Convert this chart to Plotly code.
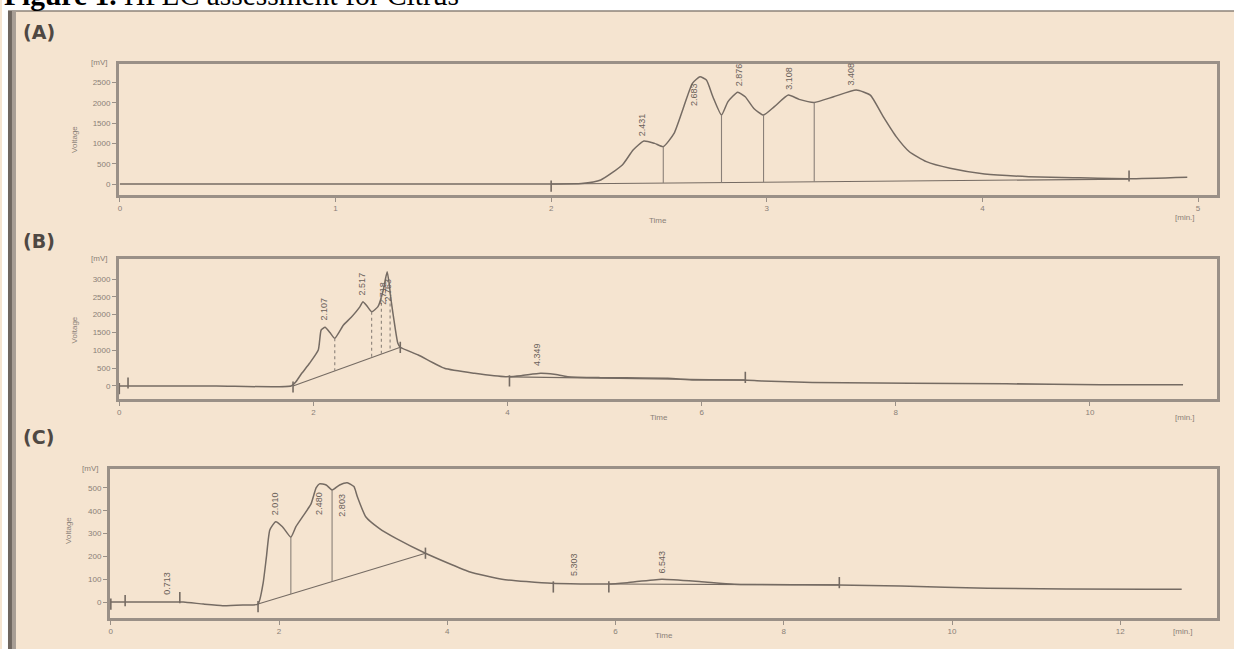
import plotly.graph_objects as go

# ---- chromatogram (A) ----
A_TIME = [0.0, 1.0, 2.0, 2.14, 2.23, 2.33, 2.38, 2.43, 2.48, 2.52, 2.57, 2.615, 2.655, 2.69,
          2.72, 2.75, 2.79, 2.82, 2.865, 2.90, 2.94, 2.985, 3.035, 3.10, 3.15, 3.22, 3.31,
          3.415, 3.48, 3.54, 3.60, 3.66, 3.74, 3.85, 4.01, 4.215, 4.42, 4.68, 4.95]
A_MV = [0, 0, 0, 10, 99, 468, 837, 1060, 1000, 920, 1248, 1905, 2479, 2640,
        2561, 2150, 1700, 2030, 2260, 2150, 1860, 1700, 1905, 2190, 2085, 2010, 2150,
        2315, 2190, 1658, 1166, 800, 550, 386, 246, 181, 156, 131, 168]
A_BASE_T = [2.0, 4.68]
A_BASE_MV = [0, 120]
A_DROP_T = [2.52, 2.79, 2.985, 3.22]
A_DROP_TOP = [920, 1700, 1700, 2010]
A_DROP_BOT = [23, 36, 44, 55]
A_MARK_T = [2.0, 4.68]
A_MARK_MV = [-50, 197]
A_PEAK_LABELS = ["2.431", "2.683", "2.876", "3.108", "3.408"]
A_PEAK_T = [2.42, 2.66, 2.87, 3.10, 3.39]
A_PEAK_MV = [1130, 1870, 2364, 2266, 2389]
A_XTICKS = [0, 1, 2, 3, 4, 5]
A_YTICKS = [0, 500, 1000, 1500, 2000, 2500]

# ---- chromatogram (B) ----
B_TIME = [0.0, 1.0, 1.77, 1.82, 1.88, 1.96, 2.05, 2.08, 2.12, 2.17, 2.22, 2.31, 2.39, 2.48,
          2.51, 2.55, 2.60, 2.665, 2.72, 2.74, 2.76, 2.78, 2.80, 2.84, 2.87, 2.895, 3.08,
          3.35, 3.66, 3.98, 4.14, 4.34, 4.48, 4.62, 4.96, 5.65, 5.92, 6.43, 6.62, 7.14,
          9.14, 10.11, 10.96]
B_MV = [0, 0, 0, 120, 356, 637, 1009, 1570, 1646, 1500, 1338, 1710, 1926, 2224,
        2364, 2250, 2083, 2224, 2692, 2972, 3205, 2880, 2411, 1663, 1197, 1085, 869,
        496, 356, 261, 290, 356, 327, 261, 234, 215, 168, 168, 140, 101,
        62, 34, 34]
B_BASE_T = [[1.79, 2.895], [4.02, 6.45]]
B_BASE_MV = [[0, 1085], [255, 165]]
B_DROP_T = [2.22, 2.60, 2.70, 2.79]
B_DROP_TOP = [1338, 2083, 2500, 2650]
B_DROP_BOT = [425, 800, 890, 985]
B_MARK_T = [0.0, 0.09, 1.79, 2.895, 4.02, 6.45]
B_MARK_MV = [-75, 84, -28, 1085, 146, 243]
B_PEAK_LABELS = ["2.107", "2.517", "2.718", "2.763", "4.349"]
B_PEAK_T = [2.11, 2.51, 2.71, 2.77, 4.31]
B_PEAK_MV = [1767, 2496, 2215, 2300, 505]
B_XTICKS = [0, 2, 4, 6, 8, 10]
B_YTICKS = [0, 500, 1000, 1500, 2000, 2500, 3000]

# ---- chromatogram (C) ----
C_TIME = [0.0, 0.5, 0.76, 0.86, 1.10, 1.33, 1.57, 1.75, 1.81, 1.85, 1.89, 1.96, 2.04, 2.14,
          2.20, 2.28, 2.38, 2.44, 2.48, 2.56, 2.63, 2.72, 2.81, 2.89, 2.93, 3.03, 3.19,
          3.39, 3.74, 4.26, 4.65, 5.24, 5.91, 6.14, 6.55, 7.02, 7.41, 8.64, 9.39, 10.42,
          12.31, 12.73]
C_MV = [0, 0, 0, 0, -9, -16, -13, -9, 82, 199, 316, 352, 330, 284,
        330, 374, 430, 500, 518, 513, 491, 513, 523, 506, 462, 374, 323,
        279, 214, 133, 100, 82, 79, 85, 100, 89, 78, 75, 70, 60,
        56, 56]
C_BASE_T = [[1.75, 3.74], [5.92, 8.66]]
C_BASE_MV = [[-9, 214], [79, 75]]
C_DROP_T = [2.14, 2.63]
C_DROP_TOP = [284, 491]
C_DROP_BOT = [35, 89]
C_MARK_T = [0.0, 0.17, 0.82, 1.75, 3.74, 5.26, 5.92, 8.66]
C_MARK_MV = [-9, 6, 19, -20, 214, 66, 66, 85]
C_PEAK_LABELS = ["0.713", "2.010", "2.480", "2.803", "5.303", "6.543"]
C_PEAK_T = [0.66, 1.96, 2.48, 2.75, 5.50, 6.55]
C_PEAK_MV = [22, 373, 373, 364, 105, 118]
C_XTICKS = [0, 2, 4, 6, 8, 10, 12]
C_YTICKS = [0, 100, 200, 300, 400, 500]

W, H = 1234, 649
BG = "#f5e4d0"
INK = "#756b63"
FRAME = "#9a9087"
TXT = "#8a8077"


def px(x):
    return x / W


def py(y):
    return 1 - y / H


fig = go.Figure()

panels = [
    ("x", "y", A_TIME, A_MV, [A_BASE_T], [A_BASE_MV], A_DROP_T, A_DROP_TOP, A_DROP_BOT,
     A_MARK_T, A_MARK_MV, A_PEAK_LABELS, A_PEAK_T, A_PEAK_MV, "solid"),
    ("x2", "y2", B_TIME, B_MV, B_BASE_T, B_BASE_MV, B_DROP_T, B_DROP_TOP, B_DROP_BOT,
     B_MARK_T, B_MARK_MV, B_PEAK_LABELS, B_PEAK_T, B_PEAK_MV, "dot"),
    ("x3", "y3", C_TIME, C_MV, C_BASE_T, C_BASE_MV, C_DROP_T, C_DROP_TOP, C_DROP_BOT,
     C_MARK_T, C_MARK_MV, C_PEAK_LABELS, C_PEAK_T, C_PEAK_MV, "solid"),
]

annotations = []
for (xa, ya, t, mv, bt, bmv, dt, dtop, dbot, mt, mmv, plab, pt, pmv, dash) in panels:
    # signal trace
    fig.add_trace(go.Scatter(x=t, y=mv, xaxis=xa, yaxis=ya, mode="lines",
                             line=dict(color=INK, width=1.5, shape="spline", smoothing=0.5),
                             hoverinfo="skip", showlegend=False))
    # integration baselines
    for seg_t, seg_v in zip(bt, bmv):
        fig.add_trace(go.Scatter(x=seg_t, y=seg_v, xaxis=xa, yaxis=ya, mode="lines",
                                 line=dict(color=INK, width=1.1),
                                 hoverinfo="skip", showlegend=False))
    # peak separation drop lines
    dx, dy = [], []
    for tt, top, bot in zip(dt, dtop, dbot):
        dx += [tt, tt, None]
        dy += [top, bot, None]
    fig.add_trace(go.Scatter(x=dx, y=dy, xaxis=xa, yaxis=ya, mode="lines",
                             line=dict(color="#8a8078", width=1.1, dash=dash),
                             hoverinfo="skip", showlegend=False))
    # integration event ticks
    fig.add_trace(go.Scatter(x=mt, y=mmv, xaxis=xa, yaxis=ya, mode="markers",
                             marker=dict(symbol="line-ns", size=8,
                                         line=dict(color=INK, width=1.6)),
                             hoverinfo="skip", showlegend=False))
    # retention time labels
    for lab, tt, v in zip(plab, pt, pmv):
        annotations.append(dict(text=lab, x=tt, y=v, xref=xa, yref=ya, showarrow=False,
                                textangle=-90, xanchor="center", yanchor="bottom",
                                font=dict(family="Liberation Sans Narrow, Liberation Sans",
                                          size=9, color="#6a615a")))

axis_common = dict(showline=True, mirror=True, linecolor=FRAME, linewidth=2.5,
                   ticks="outside", ticklen=4, tickwidth=1.2, tickcolor=FRAME,
                   showgrid=False, zeroline=False,
                   tickfont=dict(family="Liberation Sans", size=8, color=TXT))

fig.update_layout(
    width=W, height=H, margin=dict(l=0, r=0, t=0, b=0),
    paper_bgcolor=BG, plot_bgcolor="rgba(0,0,0,0)",
    xaxis=dict(domain=[px(117), px(1217)], range=[-0.005, 5.088], anchor="y",
               tickvals=A_XTICKS, **axis_common),
    yaxis=dict(domain=[py(195), py(64)], range=[-271, 2956], anchor="x",
               tickvals=A_YTICKS, **axis_common),
    xaxis2=dict(domain=[px(117), px(1217)], range=[-0.005, 11.31], anchor="y2",
                tickvals=B_XTICKS, **axis_common),
    yaxis2=dict(domain=[py(399), py(259)], range=[-365, 3561], anchor="x2",
                tickvals=B_YTICKS, **axis_common),
    xaxis3=dict(domain=[px(108), px(1217)], range=[-0.012, 13.15], anchor="y3",
                tickvals=C_XTICKS, **axis_common),
    yaxis3=dict(domain=[py(618), py(469)], range=[-70, 583], anchor="x3",
                tickvals=C_YTICKS, **axis_common),
)

small = dict(family="Liberation Sans", size=8, color=TXT)
# unit and axis captions for each panel
for mv_x, mv_y, volt_x, volt_y, time_x, time_y, min_x, min_y in [
    (107, 63, 66, 124, 657, 214, 1197, 211),
    (107, 258, 66, 330, 658, 417, 1197, 417),
    (98, 468, 60, 546, 663, 642, 1195, 638),
]:
    annotations.append(dict(text="[mV]", x=px(mv_x), y=py(mv_y), xref="paper", yref="paper",
                            showarrow=False, xanchor="right", yanchor="middle", font=small))
    annotations.append(dict(text="Voltage", x=px(volt_x), y=py(volt_y), xref="paper",
                            yref="paper", showarrow=False, textangle=-90, font=small))
    annotations.append(dict(text="Time", x=px(time_x), y=py(time_y), xref="paper",
                            yref="paper", showarrow=False, font=small))
    annotations.append(dict(text="[min.]", x=px(min_x), y=py(min_y), xref="paper",
                            yref="paper", showarrow=False, font=small))

# panel letters
for lab, yy in [("(A)", 32), ("(B)", 241), ("(C)", 437)]:
    annotations.append(dict(text="<b>" + lab + "</b>", x=px(19), y=py(yy), xref="paper",
                            yref="paper", showarrow=False, xanchor="left", yanchor="middle",
                            font=dict(family="DejaVu Sans", size=19, color="#4f4843")))

# figure caption (runs off the top edge of the page)
annotations.append(dict(text="<b>Figure 1.</b> HPLC assessment for Citrus", x=0, y=py(13),
                        xref="paper", yref="paper", showarrow=False, xanchor="left",
                        yanchor="bottom", font=dict(family="Liberation Serif", size=29.5,
                                                    color="#000000")))

fig.update_layout(annotations=annotations)

# page framing: white strip, top rule, left edge bar
fig.update_layout(shapes=[
    dict(type="rect", xref="paper", yref="paper", x0=0, x1=1, y0=py(11), y1=1,
         fillcolor="#ffffff", line=dict(width=0), layer="below"),
    dict(type="rect", xref="paper", yref="paper", x0=0, x1=px(6), y0=0, y1=1,
         fillcolor="#ffffff", line=dict(width=0), layer="below"),
    dict(type="line", xref="paper", yref="paper", x0=px(6), x1=1, y0=py(11), y1=py(11),
         line=dict(color="#8d837a", width=1.5), layer="below"),
    dict(type="rect", xref="paper", yref="paper", x0=px(6), x1=px(10), y0=0, y1=py(11),
         fillcolor="#6f665f", line=dict(width=0), layer="below"),
    dict(type="rect", xref="paper", yref="paper", x0=px(10), x1=px(14), y0=0, y1=py(11),
         fillcolor="#a89e95", line=dict(width=0), layer="below"),
])

fig.write_html("out.html")
